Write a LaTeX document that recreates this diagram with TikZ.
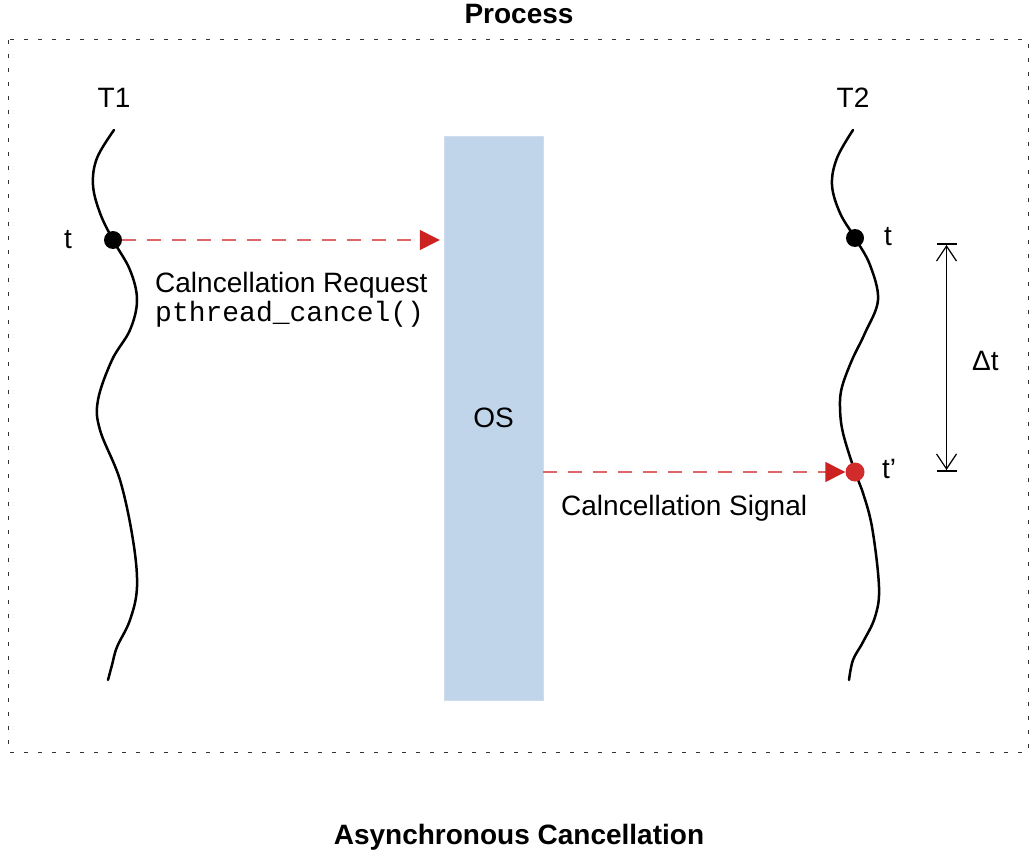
\documentclass[tikz,border=0pt]{standalone}
\usepackage{fontspec}
\setmainfont{Liberation Sans}
\setmonofont{Liberation Mono}
\usetikzlibrary{arrows.meta}
\definecolor{osfill}{HTML}{C0D4EA}
\definecolor{sigline}{HTML}{E06666}
\definecolor{sighead}{HTML}{CC2222}
\definecolor{sigdot}{HTML}{D22B2B}
\begin{document}
\begin{tikzpicture}[x=1pt,y=-1pt,
  font=\fontsize{28}{33}\selectfont,
  lbl/.style={inner sep=0pt, anchor=base},
  lblw/.style={inner sep=0pt, anchor=base west},
  thread/.style={line width=2.5pt, black, line cap=round},
  dotnode/.style={circle, fill=black, inner sep=0pt, minimum size=18pt},
  reddot/.style={circle, fill=sigdot, inner sep=0pt, minimum size=19pt},
  signal/.style={sigline, line width=1.4pt, dash pattern=on 14pt off 11pt,
     -{Triangle[length=20pt,width=20pt,color=sighead]}},
  procbox/.style={black!80, line width=1pt, dash pattern=on 4pt off 10pt},
  osbox/.style={rectangle, fill=osfill, draw=osfill!80!white, inner sep=0pt,
     minimum width=99pt, minimum height=564pt},
  measure/.style={line width=1pt,
     {Bar[width=20pt,line width=2pt] Straight Barb[length=15pt,width=20pt,line width=1.2pt]}-{Straight Barb[length=15pt,width=20pt,line width=1.2pt] Bar[width=20pt,line width=2pt]}}
]
\useasboundingbox (0,0) rectangle (1036,853);

% process frame
\draw[procbox] (8,40) rectangle (1028,752);
\node[lbl, font=\fontsize{28}{33}\selectfont\bfseries] (proc) at (519,24) {Process};
\node[lbl, font=\fontsize{28}{33}\selectfont\bfseries] (title) at (519,844) {Asynchronous Cancellation};

% OS
\node[osbox] (os) at (493.5,418) {OS};

% threads
\draw[thread] plot[smooth, tension=0.6] coordinates {
 (114,130) (97,158) (93,185) (100,213) (113,240) (130,270) (137,300) (130,330)
 (112,360) (98,400) (100,430) (120,480) (133,540) (137,587) (130,620) (117,647)
 (112,665) (108,680)};
\draw[thread] plot[smooth, tension=0.6] coordinates {
 (853,130) (837,158) (832,185) (840,213) (855,238) (870,265) (878,300) (865,333)
 (852,360) (842,387) (840,407) (843,433) (855,472) (862,490) (872,527) (879,587)
 (875,617) (863,642) (853,660) (849,680)};

\node[lbl] (t1) at (114,108) {T1};
\node[lbl] (t2) at (853,108) {T2};

\node[dotnode] (t1dot) at (113,240) {};
\node[dotnode] (t2dot) at (855,238) {};
\node[reddot] (t2pdot) at (855,472) {};

\node[lbl] (t1t) at (68,248) {t};
\node[lbl] (t2t) at (888,245) {t};
\node[lblw] (t2tp) at (882,478) {t’};

% signals
\draw[signal, shorten >=4pt] (t1dot) -- (t1dot -| os.west);
\draw[signal] (os.east |- t2pdot) -- (t2pdot);

\node[lblw] (req) at (155,292) {Calncellation Request};
\node[lblw] (fn) at (155,321.5) {\ttfamily pthread\_cancel()};
\node[lblw] (sig) at (561,515) {Calncellation Signal};

% delta t
\coordinate (mtop) at (946.5,243);
\coordinate (mbot) at (946.5,472);
\draw[measure] (mtop) -- (mbot);
\node[lblw] (dt) at (972,370) {Δt};
\end{tikzpicture}
\end{document}
